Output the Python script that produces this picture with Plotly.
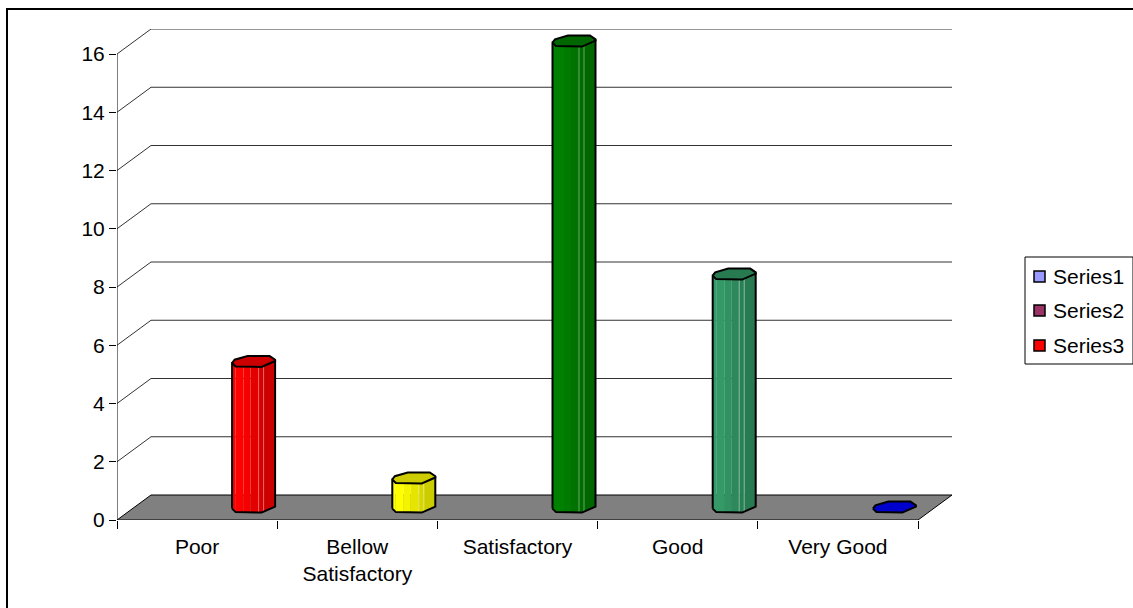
import plotly.graph_objects as go

categories = ["Poor", "Bellow<br>Satisfactory", "Satisfactory", "Good", "Very Good"]
values = [5, 1, 16, 8, 0]
bar_colors = [(255, 0, 0), (255, 255, 0), (0, 128, 0), (51, 153, 102), (0, 0, 204)]
legend_names = ["Series1", "Series2", "Series3"]
legend_colors = ["#9999FF", "#993366", "#FF0000"]
y_ticks = [0, 2, 4, 6, 8, 10, 12, 14, 16]

W, H = 1133, 608
L, R, T, B = 117, 952, 29, 520     # plot box in px
CAT_PX, UNIT_PX = 160.2, 29.125    # px per category / per value
DX, DY = 34 / CAT_PX, 25 / UNIT_PX  # depth of the 3D wall in data units
BAR_OFF = 56.5 / CAT_PX             # cluster offset of the only drawn series
BAR_DEPTH = 13.4 / UNIT_PX
XMIN = -0.5
XFRONT = 4.5


def px(v):
    return v / CAT_PX


def py(v):
    return v / UNIT_PX


def shade(c, f, white=0.0):
    r = [min(255, int(a * f + (255 - a * f) * white)) for a in c]
    return f"rgb({r[0]},{r[1]},{r[2]})"


def page_x(v):
    return (v - L) / (R - L)


def page_y(v):
    return (B - v) / (B - T)


fig = go.Figure()


def poly(xs, ys, fill=None, line="black", width=1, closed=True):
    xs = list(xs)
    ys = list(ys)
    if closed:
        xs.append(xs[0])
        ys.append(ys[0])
    fig.add_trace(go.Scatter(
        x=xs, y=ys, mode="lines", showlegend=False, hoverinfo="skip", cliponaxis=False,
        fill="toself" if fill else None, fillcolor=fill,
        line=dict(color=line, width=width) if line else dict(width=0),
    ))


# gridlines on the side and back walls
for v in y_ticks[1:]:
    poly([XMIN, XMIN + DX, XFRONT + DX], [v, v + DY, v + DY], line="#333333", width=1, closed=False)

# floor
poly([XMIN, XMIN + DX, XFRONT + DX, XFRONT], [0, DY, DY, 0], fill="#808080")
# value axis line
poly([XMIN, XMIN], [0, y_ticks[-1]], closed=False)

# octagonal prism outline, px offsets from the bar axis
front_x = [-21.5, -18, 8, 18, 21.5]
front_y = [2, 5.5, 6, 2, 0]
back_x = [21.5, 16, -6, -19, -21.5]
back_y = [-1.3, -5, -5, -1.3, 2]
strips = [(-21.5, -18, 1.0), (-18, -10, 1.0), (-10, -3, 0.96), (-3, 5, 0.9), (5, 10, 0.84), (10, 21.5, 0.8)]
light_lines = [5, 10]


def profile(x):
    for i in range(len(front_x) - 1):
        if front_x[i] <= x <= front_x[i + 1]:
            t = (x - front_x[i]) / (front_x[i + 1] - front_x[i])
            return front_y[i] + t * (front_y[i + 1] - front_y[i])
    return 0


for i, (val, col) in enumerate(zip(values, bar_colors)):
    cx = i + BAR_OFF
    base = BAR_DEPTH
    if val > 0:
        for a, b, f in strips:
            knots = [k for k in front_x if a < k < b]
            xs = [a] + knots + [b]
            top = [(cx + px(x), val + base - py(profile(x))) for x in xs]
            bot = [(cx + px(x), base - py(profile(x))) for x in reversed(xs)]
            pts = top + bot
            poly([p[0] for p in pts], [p[1] for p in pts], fill=shade(col, f), line=None)
        for x in light_lines:
            yo = py(profile(x))
            poly([cx + px(x)] * 2, [base - yo, val + base - yo], line=shade(col, 0.88, 0.4), width=1, closed=False)
        # silhouette
        sil_x = [cx + px(x) for x in front_x] + [cx + px(-21.5)]
        sil_y = [base - py(y) for y in front_y] + [val + base - py(2)]
        sil_x.insert(len(front_x), cx + px(21.5))
        sil_y.insert(len(front_y), val + base - py(0))
        poly(sil_x, sil_y, line="black", width=2, closed=True)
    # top cap
    cap_x = [cx + px(x) for x in front_x + back_x[:-1]]
    cap_y = [val + base - py(y) for y in front_y + back_y[:-1]]
    poly(cap_x, cap_y, fill=shade(col, 0.8 if val > 0 else 1.0), line="black", width=2)

font = dict(family="Liberation Sans, Arial, sans-serif", size=21, color="black")

# legend panel: drawn by hand because the box is narrower than Plotly's own legend allows
legend_rows = [276, 310, 345]
shapes = [
    dict(type="line", xref="paper", yref="paper", x0=page_x(7), x1=page_x(7), y0=page_y(608), y1=page_y(9),
         line=dict(color="black", width=2)),
    dict(type="line", xref="paper", yref="paper", x0=page_x(6), x1=page_x(1133), y0=page_y(9), y1=page_y(9),
         line=dict(color="black", width=2)),
    dict(type="rect", xref="paper", yref="paper", x0=page_x(1025), x1=page_x(1133), y0=page_y(364), y1=page_y(257),
         line=dict(color="black", width=1), fillcolor="white"),
]
annotations = []
for name, color, row in zip(legend_names, legend_colors, legend_rows):
    shapes.append(dict(type="rect", xref="paper", yref="paper", x0=page_x(1034), x1=page_x(1045),
                       y0=page_y(row + 6), y1=page_y(row - 5),
                       fillcolor=color, line=dict(color="black", width=1.5)))
    annotations.append(dict(xref="paper", yref="paper", x=page_x(1053), y=page_y(row), text=name,
                            xanchor="left", yanchor="middle", showarrow=False, font=font,
                            borderpad=0, borderwidth=0))

fig.update_layout(
    width=W, height=H, autosize=False,
    margin=dict(l=L, r=W - R, t=T, b=H - B, autoexpand=False),
    paper_bgcolor="white", plot_bgcolor="rgba(0,0,0,0)", font=font, showlegend=False,
    xaxis=dict(
        range=[XMIN, XMIN + (R - L) / CAT_PX], showgrid=False, zeroline=False, showline=False,
        tickmode="array", tickvals=list(range(len(categories))), ticktext=categories,
        ticks="", ticklabelstandoff=12,
        minor=dict(tickmode="array", tickvals=[k - 0.5 for k in range(len(categories) + 1)],
                   ticks="outside", ticklen=8, tickcolor="black", tickwidth=1, showgrid=False),
    ),
    yaxis=dict(
        range=[0, (B - T) / UNIT_PX], showgrid=False, zeroline=False, showline=False,
        tickmode="array", tickvals=y_ticks, ticks="outside", ticklen=7, tickcolor="black", tickwidth=1,
        ticklabelstandoff=0,
    ),
    shapes=shapes, annotations=annotations,
)
fig.write_html("out.html", config={"displayModeBar": False},
               post_script="document.body.style.margin='0';document.body.style.overflow='hidden';")
